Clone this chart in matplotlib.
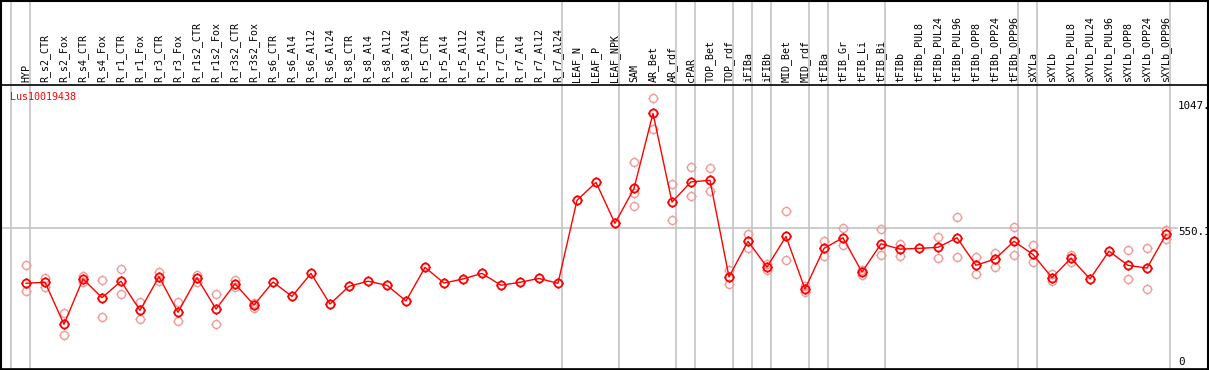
import numpy as np
import matplotlib
matplotlib.use("Agg")
import matplotlib.pyplot as plt
from matplotlib.path import Path
from matplotlib.patches import Rectangle

# sample columns
samples = ["HYP", "R_s2_CTR", "R_s2_Fox", "R_s4_CTR", "R_s4_Fox", "R_r1_CTR", "R_r1_Fox",
           "R_r3_CTR", "R_r3_Fox", "R_r1s2_CTR", "R_r1s2_Fox", "R_r3s2_CTR", "R_r3s2_Fox",
           "R_s6_CTR", "R_s6_Al4", "R_s6_Al12", "R_s6_Al24", "R_s8_CTR", "R_s8_Al4",
           "R_s8_Al12", "R_s8_Al24", "R_r5_CTR", "R_r5_Al4", "R_r5_Al12", "R_r5_Al24",
           "R_r7_CTR", "R_r7_Al4", "R_r7_Al12", "R_r7_Al24", "LEAF_N", "LEAF_P", "LEAF_NPK",
           "SAM", "AR_Bet", "AR_rdf", "cPAR", "TOP_Bet", "TOP_rdf", "iFIBa", "iFIBb",
           "MID_Bet", "MID_rdf", "tFIBa", "tFIB_Gr", "tFIB_Li", "tFIB_Bi", "tFIBb",
           "tFIBb_PUL8", "tFIBb_PUL24", "tFIBb_PUL96", "tFIBb_OPP8", "tFIBb_OPP24",
           "tFIBb_OPP96", "sXYLa", "sXYLb", "sXYLb_PUL8", "sXYLb_PUL24", "sXYLb_PUL96",
           "sXYLb_OPP8", "sXYLb_OPP24", "sXYLb_OPP96"]

# mean expression per sample
means = [333, 337, 171, 350, 276, 341, 226, 359, 218, 355, 231, 331, 247,
         338, 281, 372, 251, 321, 341, 325, 263, 396, 334, 350, 372, 325, 337, 352, 333,
         661, 732, 570, 708, 1005, 654, 734, 740, 358, 499, 397, 518, 310,
         471, 513, 377, 489, 468, 471, 475, 513, 404, 429, 499,
         447, 355, 432, 350, 460, 404, 393, 526]

# individual replicates (only those visible apart from the mean)
reps = [[404, 301], [355, 318], [214, 128], [363, 337], [345, 198], [388, 292],
        [258, 190], [377, 343], [258, 183], [367, 339], [289, 171], [346, 318],
        [254, 236], [], [], [], [], [], [], [], [], [], [], [], [], [], [], [], [],
        [], [], [], [811, 691, 637], [1064, 944], [725, 583], [791, 677], [787, 696],
        [384, 331], [528, 474], [410, 385], [617, 424], [322, 297], [501, 442],
        [550, 483], [385, 364], [546, 443], [489, 442], [], [517, 432], [594, 436],
        [436, 368], [454, 398], [554, 443], [483, 416], [368, 342], [446, 417], [],
        [], [463, 350], [472, 309], [542, 509]]

# group boundaries drawn after these column indices
group_ends = [-1, 0, 28, 31, 34, 35, 37, 38, 39, 41, 42, 45, 52, 53, 60]

gene = "Lus10019438"
y_ticks = [1047, 550.1, 0]
y_tick_labels = ["1047.", "550.1", "0"]

W, H = 1209, 370
fig = plt.figure(figsize=(W / 100, H / 100), dpi=100)
ax_top, ax_bot, ax_l, ax_r = 85, 369, 1, 1208
ax = fig.add_axes([ax_l / W, (H - ax_bot) / H, (ax_r - ax_l) / W, (ax_bot - ax_top) / H])

px = 19.0  # pixels per column
x0 = 26.0
ax.set_xlim((ax_l - x0) / px, (ax_r - x0) / px)
ax.set_ylim(-6, 1117)
ax.set_xticks([])
ax.set_yticks([])
for s in ax.spines.values():
    s.set_linewidth(1.2)

fig.add_artist(Rectangle((0.5 / W, 0.5 / H), (W - 1.5) / W, (H - 1.5) / H,
                         transform=fig.transFigure, fill=False, ec="black", lw=1.5))

# gear-like marker: circle with four small ticks
r0 = 0.8
circ = Path.unit_circle()
circ = Path(circ.vertices * r0, circ.codes)
ticks = []
for dx, dy in [(0, 1), (0, -1), (1, 0), (-1, 0)]:
    ticks.append(Path([(dx * r0, dy * r0), (dx, dy)], [Path.MOVETO, Path.LINETO]))
gear = Path.make_compound_path(circ, *ticks)

ext = 1 + ax_top / (ax_bot - ax_top)
for g in group_ends:
    ax.axvline(g + 0.22, ymin=0, ymax=ext, color="#c4c4c4", lw=1.2, clip_on=False, zorder=1)

ax.axhline(550.1, xmin=0, xmax=(1177 - ax_l) / (ax_r - ax_l), color="#c4c4c4", lw=1.2, zorder=1)

xs = np.arange(len(samples))
for i, r in enumerate(reps):
    if r:
        ax.plot([i] * len(r), r, linestyle="none", marker=gear, ms=7.2, mfc="none",
                mec="#f09a9a", mew=1.0, zorder=2)

ax.plot(xs, means, color="red", lw=1.0, zorder=3)
ax.plot(xs, means, linestyle="none", marker=gear, ms=7.2, mfc="none", mec="red",
        mew=1.3, zorder=4)

for i, name in enumerate(samples):
    ax.text(i, 1 + 2.5 / (ax_bot - ax_top), name, transform=ax.get_xaxis_transform(),
            rotation=90, ha="center", va="bottom", fontsize=7.2,
            family="DejaVu Sans Mono", clip_on=False)

ax.text((10 - x0) / px, 1 - 12 / (ax_bot - ax_top), gene, transform=ax.get_xaxis_transform(),
        color="red", fontsize=7.2, family="DejaVu Sans Mono", ha="left", va="center")

for v, lab in zip(y_ticks, y_tick_labels):
    yy = max(v - 15, 23)
    ax.text((1178 - x0) / px, yy, lab, fontsize=7.8, family="DejaVu Sans Mono",
            ha="left", va="center")

fig.savefig("out.png", dpi=100)
